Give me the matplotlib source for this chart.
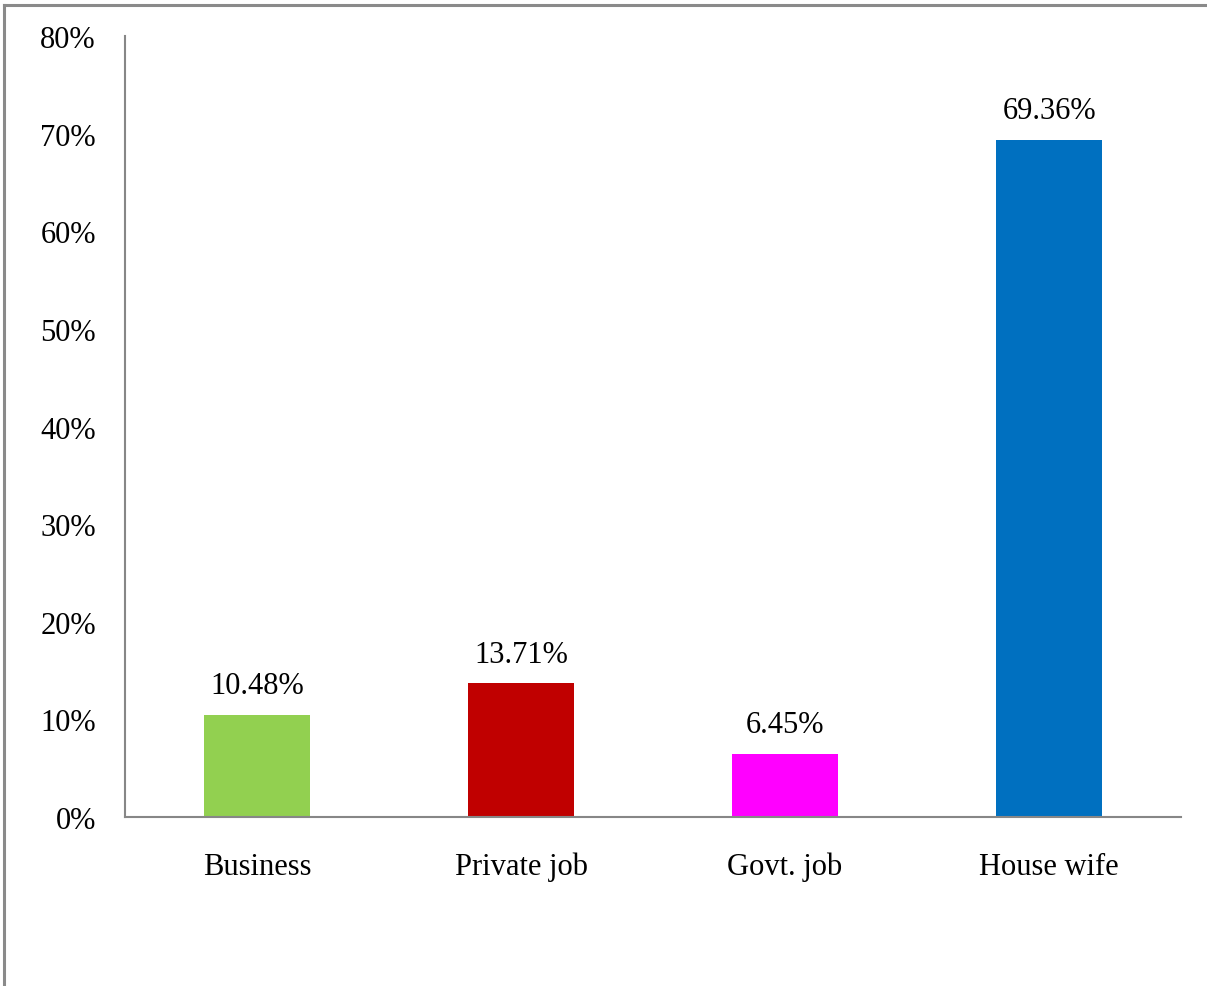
import matplotlib.pyplot as plt
from matplotlib.lines import Line2D
from matplotlib.ticker import FuncFormatter

plt.rcParams['font.family'] = ['Liberation Serif', 'DejaVu Serif']

categories = ["Business", "Private job", "Govt. job", "House wife"]
values = [10.48, 13.71, 6.45, 69.36]
colors = ["#92D050", "#C00000", "#FF00FF", "#0070C0"]
yticks = [0, 10, 20, 30, 40, 50, 60, 70, 80]

fig = plt.figure(figsize=(12.07, 9.87), dpi=100)
ax = fig.add_axes([0.1036, 0.1712, 0.875, 0.7913])

x = range(len(categories))
bars = ax.bar(x, values, width=0.4, color=colors)

for b, v in zip(bars, values):
    ax.text(b.get_x() + b.get_width() / 2, v + 1.5, f"{v:.2f}%",
            ha="center", va="bottom", fontsize=22)

ax.set_xlim(-0.5, len(categories) - 0.5)
ax.set_ylim(0, 80)
ax.set_yticks(yticks)
ax.yaxis.set_major_formatter(FuncFormatter(lambda v, p: f"{v:.0f}%"))
ax.set_xticks(list(x))
ax.set_xticklabels(categories)
ax.tick_params(axis="both", length=0, labelsize=22)
ax.tick_params(axis="y", pad=21)
ax.tick_params(axis="x", pad=25)

for s in ["top", "right"]:
    ax.spines[s].set_visible(False)
for s in ["left", "bottom"]:
    ax.spines[s].set_color("#878787")
    ax.spines[s].set_linewidth(1.5)

# outer frame: only left and top edges
fig.add_artist(Line2D([0.0037, 0.0037], [0, 0.9935], color="#8a8a8a", lw=2.2))
fig.add_artist(Line2D([0.0037, 1.0], [0.9935, 0.9935], color="#8a8a8a", lw=2.2))

fig.savefig("out.png", dpi=100)
